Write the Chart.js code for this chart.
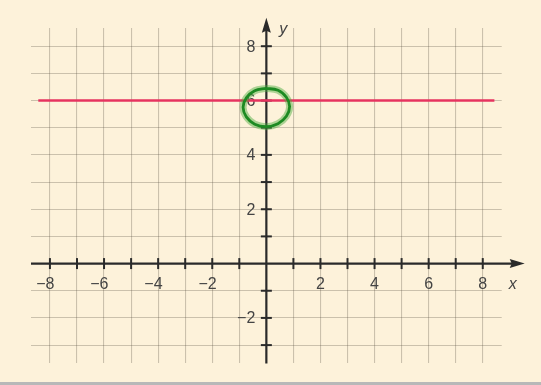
<!DOCTYPE html>
<html>
<head>
<meta charset="utf-8">
<script src="https://cdn.jsdelivr.net/npm/chart.js@4"></script>
<style>
    body { margin: 0; background: #fff; }
    #wrap {
        width: 541px;
        height: 382px;
        background: #fdf2da;
        border-bottom: 3px solid #b8b8b8;
        position: relative;
    }
</style>
</head>
<body>
<div id="wrap"><canvas id="graph"></canvas></div>
<script>
// Data
const lineX = [-8.43, 8.43];
const lineY = [6, 6];

// hand drawn ring round (0, 6)
const ringX = [0, -0.43, -0.74, -0.86, -0.74, -0.43, 0, 0.43, 0.74, 0.86, 0.74, 0.43, -0.05];
const ringY = [6.45, 6.36, 6.10, 5.75, 5.40, 5.13, 5.04, 5.15, 5.42, 5.78, 6.12, 6.38, 6.45];

const xTickValues = [-8, -7, -6, -5, -4, -3, -2, -1, 1, 2, 3, 4, 5, 6, 7, 8];
const yTickValues = [-3, -2, -1, 1, 2, 3, 4, 5, 6, 7, 8];
const xLabelValues = [-8, -6, -4, -2, 2, 4, 6, 8];
const xLabels = ['−8', '−6', '−4', '−2', '2', '4', '6', '8'];
const yLabelValues = [-2, 2, 4, 6, 8];
const yLabels = ['−2', '2', '4', '6', '8'];

// extent of the drawn axes (arrow tips)
const xAxisRange = [-8.7, 9.55];
const yAxisRange = [-3.68, 9.05];

const toPoints = (xs, ys) => xs.map((x, i) => ({ x: x, y: ys[i] }));

// Axes through the origin, with arrows, ticks and labels
const axesPlugin = {
    id: 'axes',
    beforeDatasetsDraw(chart) {
        const ctx = chart.ctx;
        const xs = chart.scales.x;
        const ys = chart.scales.y;
        const x0 = xs.getPixelForValue(0);
        const y0 = ys.getPixelForValue(0);

        ctx.save();
        ctx.strokeStyle = '#2a2a2a';
        ctx.fillStyle = '#2a2a2a';
        ctx.lineWidth = 2.2;

        // x axis
        const xLeft = xs.getPixelForValue(xAxisRange[0]);
        const xTip = xs.getPixelForValue(xAxisRange[1]);
        ctx.beginPath();
        ctx.moveTo(xLeft, y0);
        ctx.lineTo(xTip - 8, y0);
        ctx.stroke();
        ctx.beginPath();
        ctx.moveTo(xTip, y0);
        ctx.lineTo(xTip - 15, y0 - 4.5);
        ctx.lineTo(xTip - 13, y0);
        ctx.lineTo(xTip - 15, y0 + 4.5);
        ctx.closePath();
        ctx.fill();

        // y axis
        const yBottom = ys.getPixelForValue(yAxisRange[0]);
        const yTip = ys.getPixelForValue(yAxisRange[1]);
        ctx.beginPath();
        ctx.moveTo(x0, yBottom);
        ctx.lineTo(x0, yTip + 8);
        ctx.stroke();
        ctx.beginPath();
        ctx.moveTo(x0, yTip);
        ctx.lineTo(x0 - 4.5, yTip + 15);
        ctx.lineTo(x0, yTip + 13);
        ctx.lineTo(x0 + 4.5, yTip + 15);
        ctx.closePath();
        ctx.fill();

        // tick marks
        ctx.lineWidth = 2;
        xTickValues.forEach(v => {
            const px = xs.getPixelForValue(v);
            ctx.beginPath();
            ctx.moveTo(px, y0 - 5.5);
            ctx.lineTo(px, y0 + 5.5);
            ctx.stroke();
        });
        yTickValues.forEach(v => {
            const py = ys.getPixelForValue(v);
            ctx.beginPath();
            ctx.moveTo(x0 - 5.5, py);
            ctx.lineTo(x0 + 5.5, py);
            ctx.stroke();
        });

        // tick labels
        ctx.fillStyle = '#444';
        ctx.font = '16px "Liberation Sans", Arial, sans-serif';
        ctx.textBaseline = 'middle';
        ctx.textAlign = 'right';
        xLabelValues.forEach((v, i) => {
            const px = xs.getPixelForValue(v);
            const digitW = ctx.measureText(xLabels[i].replace('−', '')).width;
            ctx.fillText(xLabels[i], px + digitW / 2, y0 + 21);
        });
        yLabelValues.forEach((v, i) => {
            const py = ys.getPixelForValue(v);
            ctx.fillText(yLabels[i], x0 - 11, py + 1);
        });

        // axis names
        ctx.font = 'italic 16px "Liberation Sans", Arial, sans-serif';
        ctx.textAlign = 'center';
        ctx.fillText('x', xTip - 12, y0 + 21);
        ctx.fillText('y', x0 + 17, yTip + 12);
        ctx.restore();
    }
};

document.addEventListener('DOMContentLoaded', () => {
    const canvas = document.getElementById('graph');

    new Chart(canvas, {
        type: 'scatter',
        data: {
            datasets: [{
                // red line y = 6
                data: toPoints(lineX, lineY),
                showLine: true,
                borderColor: '#e6335f',
                borderWidth: 2.5,
                pointRadius: 0,
                order: 3
            }, {
                // soft halo of the marker stroke
                data: toPoints(ringX, ringY),
                showLine: true,
                borderColor: 'rgba(70, 170, 60, 0.45)',
                borderWidth: 7,
                tension: 0.4,
                pointRadius: 0,
                order: 2
            }, {
                data: toPoints(ringX, ringY),
                showLine: true,
                borderColor: '#1d8a22',
                borderWidth: 2.8,
                tension: 0.4,
                pointRadius: 0,
                order: 1
            }]
        },
        options: {
            responsive: true,
            maintainAspectRatio: false,
            animation: false,
            layout: {
                padding: { left: 31, right: 39.3, top: 28, bottom: 18.7 }
            },
            plugins: {
                legend: { display: false },
                tooltip: { enabled: false }
            },
            scales: {
                x: {
                    type: 'linear',
                    min: -8.7,
                    max: 8.7,
                    border: { display: false },
                    grid: { color: 'rgba(90, 80, 65, 0.3)', lineWidth: 1.1, drawTicks: false },
                    ticks: { stepSize: 1, display: false, includeBounds: false }
                },
                y: {
                    type: 'linear',
                    min: -3.67,
                    max: 8.67,
                    border: { display: false },
                    grid: { color: 'rgba(90, 80, 65, 0.3)', lineWidth: 1.1, drawTicks: false },
                    ticks: { stepSize: 1, display: false, includeBounds: false }
                }
            }
        },
        plugins: [axesPlugin]
    });
});
</script>
</body>
</html>
